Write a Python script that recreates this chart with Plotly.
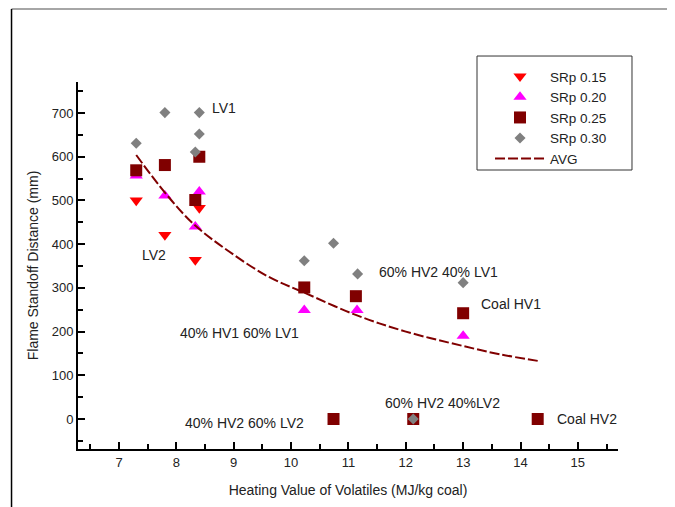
import plotly.graph_objects as go

# --- data ---
x_s015 = [7.3, 7.8, 8.33, 8.4]
y_s015 = [500, 421, 364, 483]

x_s020 = [7.3, 7.8, 8.33, 8.4, 10.23, 11.15, 13.0]
y_s020 = [557, 511, 440, 520, 249, 249, 190]

x_s025 = [7.3, 7.8, 8.33, 8.4, 10.23, 11.13, 13.0, 10.74, 12.13, 14.3]
y_s025 = [569, 581, 501, 600, 301, 281, 242, 0, 0, 0]

x_s030 = [7.3, 7.8, 8.4, 8.4, 8.33, 10.23, 10.74, 11.16, 13.0, 12.13]
y_s030 = [631, 701, 701, 652, 611, 362, 402, 332, 312, 0]

x_avg = [7.3, 7.8, 8.3, 8.9, 9.6, 10.25, 11.15, 12.0, 13.0, 13.64, 14.3]
y_avg = [604, 518, 446, 385, 326, 288, 237, 200, 167, 148, 133]

labels = ["LV1", "LV2", "40% HV1 60% LV1", "40% HV2 60% LV2",
          "60% HV2 40% LV1", "Coal HV1", "60% HV2 40%LV2", "Coal HV2"]
label_x = [8.59, 7.37, 8.03, 8.12, 11.49, 13.27, 11.61, 14.6]
label_y = [712, 375, 196, -8, 336, 262, 36, 0]

FONT = "Liberation Sans, Arial, sans-serif"

fig = go.Figure()
fig.add_trace(go.Scatter(x=x_s015, y=y_s015, mode="markers", name="SRp 0.15",
                         marker=dict(symbol="triangle-down", color="#FF0000", size=11.5)))
fig.add_trace(go.Scatter(x=x_s020, y=y_s020, mode="markers", name="SRp 0.20",
                         marker=dict(symbol="triangle-up", color="#FF00FF", size=11.5)))
fig.add_trace(go.Scatter(x=x_s025, y=y_s025, mode="markers", name="SRp 0.25",
                         marker=dict(symbol="square", color="#800000", size=12)))
fig.add_trace(go.Scatter(x=x_s030, y=y_s030, mode="markers", name="SRp 0.30",
                         marker=dict(symbol="diamond", color="#808080", size=8.5)))
fig.add_trace(go.Scatter(x=x_avg, y=y_avg, mode="lines", name="AVG",
                         line=dict(color="#800000", width=2, dash="10px,3px", shape="spline")))

for t, lx, ly in zip(labels, label_x, label_y):
    fig.add_annotation(x=lx, y=ly, text=t, showarrow=False, xanchor="left",
                       yanchor="middle", font=dict(family=FONT, size=14, color="#222222"))

axis_common = dict(showline=True, linecolor="black", linewidth=2, mirror=False,
                   showgrid=False, zeroline=False, ticks="inside", ticklen=7,
                   tickwidth=1.5, tickcolor="black",
                   tickfont=dict(family=FONT, size=13, color="#222222"))

fig.update_xaxes(range=[6.285, 15.7], dtick=1, tick0=0,
                 minor=dict(ticks="inside", ticklen=5, dtick=0.5, tickwidth=1.5, tickcolor="black"),
                 title=dict(text="Heating Value of Volatiles (MJ/kg coal)",
                            font=dict(family=FONT, size=14, color="#222222"), standoff=17),
                 **axis_common)
fig.update_yaxes(range=[-68.6, 771], dtick=100, tick0=0,
                 minor=dict(ticks="inside", ticklen=5, dtick=50, tickwidth=1.5, tickcolor="black"),
                 title=dict(text="Flame Standoff Distance (mm)",
                            font=dict(family=FONT, size=14, color="#222222"), standoff=10),
                 **axis_common)

# outer frame lines of the figure
fig.add_shape(type="line", xref="paper", yref="paper", x0=-0.1231, x1=1.105, y0=1.1989, y1=1.1989,
              line=dict(color="#888888", width=1.5))
fig.add_shape(type="line", xref="paper", yref="paper", x0=-0.1231, x1=-0.1231, y0=1.1989, y1=-0.158,
              line=dict(color="black", width=1.5))
# legend box
fig.add_shape(type="rect", xref="paper", yref="paper", x0=0.7389, x1=1.0259, y0=0.7602, y1=1.0708,
              line=dict(color="#333333", width=1), fillcolor="white", layer="below")

fig.update_layout(
    width=667, height=499,
    margin=dict(l=70, r=57, t=74, b=58),
    paper_bgcolor="white", plot_bgcolor="white",
    font=dict(family=FONT, size=13, color="#222222"),
    showlegend=True,
    legend=dict(x=0.763, y=1.057, xanchor="left", yanchor="top",
                borderwidth=0, bgcolor="rgba(0,0,0,0)",
                itemwidth=50, font=dict(family=FONT, size=13.5, color="#222222"),
                tracegroupgap=0),
)

fig.write_html("out.html")
